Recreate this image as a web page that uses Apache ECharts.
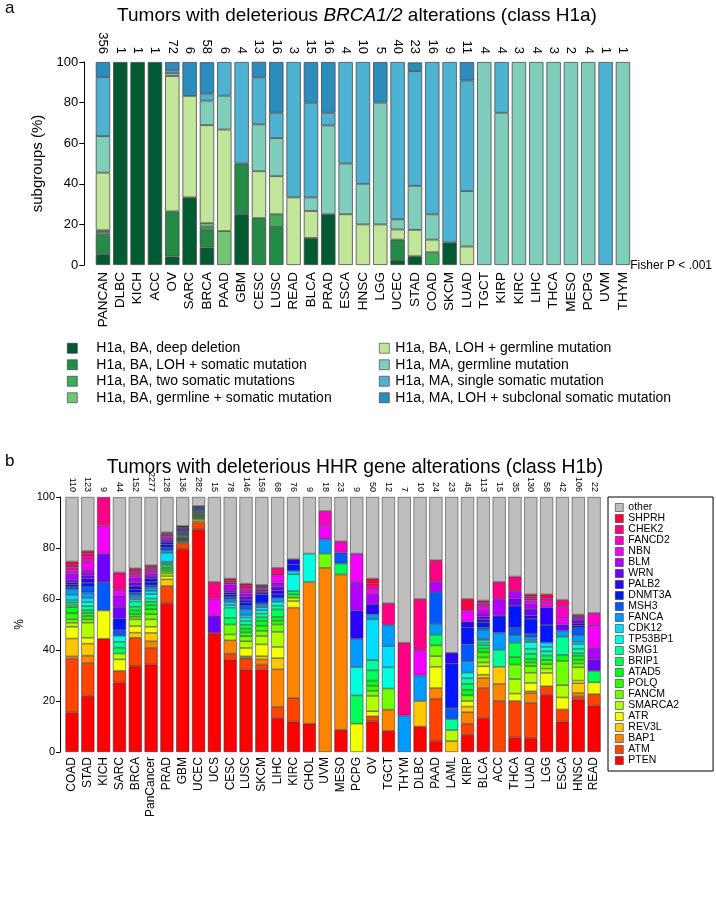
<!DOCTYPE html>
<html>
<head>
<meta charset="utf-8">
<script src="https://cdn.jsdelivr.net/npm/echarts@6/dist/echarts.min.js"></script>
<style>
  html, body { margin: 0; padding: 0; background: #fff; }
  #main { width: 716px; height: 898px; }
</style>
</head>
<body>
<div id="main"></div>
<script>
// ---- panel a: BRCA1/2 (class H1a) ----
const topCats = ["PANCAN","DLBC","KICH","ACC","OV","SARC","BRCA","PAAD","GBM","CESC","LUSC","READ","BLCA","PRAD","ESCA","HNSC","LGG","UCEC","STAD","COAD","SKCM","LUAD","TGCT","KIRP","KIRC","LIHC","THCA","MESO","PCPG","UVM","THYM"];
const topCounts = [356,1,1,1,72,6,58,6,4,13,16,3,15,16,4,10,5,40,23,16,9,11,4,4,3,4,3,2,4,1,1];
const topNames = ["H1a, BA, deep deletion","H1a, BA, LOH + somatic mutation","H1a, BA, two somatic mutations","H1a, BA, germline + somatic mutation","H1a, BA, LOH + germline mutation","H1a, MA, germline mutation","H1a, MA, single somatic mutation","H1a, MA, LOH + subclonal somatic mutation"];
const topColors = ["#005a32","#238b45","#41ab5d","#74c476","#c2e699","#7fcdbb","#4eb3d3","#2b8cbe"];
// percent of tumours, bottom to top
const deepDel  = [5.3,100,100,100,4.2,33.3,8.6,0,25,0,0,0,13.3,25,0,0,0,2.5,4.3,0,11.1,0,0,0,0,0,0,0,0,0,0];
const lohSom   = [9.5,0,0,0,22.2,0,8.6,0,25,23.1,18.75,0,0,0,0,0,0,10,0,0,0,0,0,0,0,0,0,0,0,0,0];
const twoSom   = [1.5,0,0,0,0,0,1.7,0,0,0,6.25,0,0,0,0,0,0,0,0,6.25,0,0,0,0,0,0,0,0,0,0,0];
const germSom  = [0.8,0,0,0,0,0,1.7,16.7,0,0,0,0,0,0,0,0,0,0,0,0,0,0,0,0,0,0,0,0,0,0,0];
const lohGerm  = [28.4,0,0,0,66.7,50,48.3,50,0,23.1,18.75,33.3,13.3,0,25,20,20,5,13,6.25,0,9.1,0,0,0,0,0,0,0,0,0];
const maGerm   = [18,0,0,0,1.4,0,12.1,16.7,0,23.1,18.75,0,6.7,43.75,25,20,60,5,21.7,12.5,0,27.3,100,75,100,100,100,100,100,0,100];
const maSingle = [29,0,0,0,1.4,0,3.4,16.6,50,23.1,12.5,66.7,46.7,6.25,50,60,0,77.5,56.5,75,88.9,54.5,0,25,0,0,0,0,0,100,0];
const maLoh    = [7.5,0,0,0,4.1,16.7,15.5,0,0,7.7,25,0,20,25,0,0,20,0,4.3,0,0,9.1,0,0,0,0,0,0,0,0,0];
const topData = [deepDel, lohSom, twoSom, germSom, lohGerm, maGerm, maSingle, maLoh];

// ---- panel b: HHR genes (class H1b) ----
const botCats = ["COAD","STAD","KICH","SARC","BRCA","PanCancer","PRAD","GBM","UCEC","UCS","CESC","LUSC","SKCM","LIHC","KIRC","CHOL","UVM","MESO","PCPG","OV","TGCT","THYM","DLBC","PAAD","LAML","KIRP","BLCA","ACC","THCA","LUAD","LGG","ESCA","HNSC","READ"];
const botCounts = [110,123,9,44,152,2277,128,136,282,15,78,146,159,68,76,9,18,23,9,50,12,7,10,24,23,45,113,15,35,130,58,42,106,22];
const genes = ["PTEN","ATM","BAP1","REV3L","ATR","SMARCA2","FANCM","POLQ","ATAD5","BRIP1","SMG1","TP53BP1","CDK12","FANCA","MSH3","DNMT3A","PALB2","WRN","BLM","NBN","FANCD2","CHEK2","SHPRH","other"];
const geneColors = ["#FF0000","#FF4300","#FF8500","#FFC800","#F4FF00","#B1FF00","#6FFF00","#2CFF00","#00FF16","#00FF59","#00FF9B","#00FFDE","#00DEFF","#009BFF","#0059FF","#0016FF","#2C00FF","#6F00FF","#B100FF","#F400FF","#FF00C8","#FF0085","#FF0043","#BEBEBE"];
const PTEN    = [15.5,22.0,44.4,27.3,33.6,34.3,58.5,79.5,87.4,46.7,36.2,32.3,32.3,13.3,11.9,11.1,0,8.7,0,12,8.3,0,10,4.2,0,6.7,13.3,0,5.7,5.4,22.4,11.9,20.5,18.2];
const ATM     = [21.0,12.9,0,4.5,11.2,6.5,6.6,2.3,2.6,0,2.4,4.2,2.0,4.4,9.2,0,0,0,0,2,0,0,0,16.7,0,4.4,11.8,20,14.3,13.8,3.4,4.8,1.3,4.5];
const BAP1    = [1.0,2.9,0,0,0,2.6,0,0,0,0,5.2,0.5,2.0,14.7,35.5,55.6,72.2,60.9,0,0,8.3,0,0,4.2,0,4.5,3.9,6.7,0,3.9,0,0,1.3,0];
const REV3L   = [7.0,4.7,0,0,2.0,3.3,2.6,0.4,0.6,0,0,0.5,1.3,4.4,0,0,0,0,0,0,0,0,10,0,4.3,2.2,1.3,6.7,0,0.7,0,0,3.9,0];
const ATR     = [4.6,2.3,11.1,4.5,2.6,2.4,1.3,0.4,0.7,0,0,3.3,4.6,4.4,2.6,0,0,0,11.1,2,0,0,0,8.3,0,2.2,3.3,0,2.9,3.3,5.2,4.7,1.0,4.6];
const SMARCA2 = [1.6,5.9,0,2.3,2.6,2.9,1.0,0.3,0.4,0,2.3,2.6,3.3,5.9,1.3,0,0,0,0,6,0,0,0,4.2,4.3,0,1.5,0,5.7,4.0,1.7,4.8,5.2,0];
const FANCM   = [1.3,1.3,0,0,1.0,2.0,0.8,0.3,0.4,0,3.9,2.0,2.0,2.9,0,0,5.6,0,0,2,8.3,0,0,4.2,0,2.2,2.0,0,5.7,2.6,1.7,9.5,1.5,0];
const POLQ    = [2.4,1.3,0,0,1.0,2.0,0.8,0.3,0.4,0,0,1.5,2.0,1.5,1.3,0,0,0,0,2,0,0,0,0,0,0,2.0,0,0,1.4,1.7,0,1.5,0];
const ATAD5   = [2.4,1.3,0,0,1.5,1.6,0.8,0.3,0.4,0,0,1.5,2.0,1.5,0,0,0,0,0,2,0,0,0,0,0,2.2,1.5,0,2.9,1.4,0,2.4,1.5,0];
const BRIP1   = [1.0,1.0,0,2.3,1.5,1.3,1.0,0.3,0.4,0,2.6,1.5,1.3,2.9,1.3,0,0,4.3,11.1,4,0,0,0,4.2,0,2.3,1.3,0,5.7,2.0,1.7,0,1.0,4.5];
const SMG1    = [0.9,1.6,0,2.3,2.0,1.3,0.6,0.4,0.4,0,4.0,1.5,1.5,1.5,0,0,0,0,0,4,0,0,0,0,4.3,2.2,1.0,6.7,0,2.0,1.7,7.1,1.8,0];
const TP53BP1 = [0.9,1.6,0,2.3,0.9,1.7,0.6,0.4,0.4,0,1.0,1.3,1.3,1.5,6.6,11.1,0,0,11.1,0,8.3,0,0,0,0,2.2,1.0,0,0,2.6,1.7,0,1.8,0];
const CDK12   = [2.0,1.6,0,0,0.7,1.3,3.5,0.3,0.4,0,1.2,1.0,1.2,0,1.3,0,0,0,0,16,8.3,0,0,0,0,0,0.5,0,0,0.6,1.7,0,0.9,0];
const FANCA   = [2.2,2.1,0,0,1.0,1.3,1.0,0.4,0.4,0,1.0,2.3,1.1,1.5,0,0,5.6,0,11.1,2,8.4,14.3,10,4.2,0,4.5,3.5,6.7,2.9,1.3,0,2.4,2.6,0];
const MSH3    = [0.9,2.2,11.1,2.3,0.9,0.9,1.0,0.4,0.4,0,1.0,1.3,0.5,0,0,0,0,4.3,0,0,0,0,0,12.5,4.3,6.6,1.0,0,2.9,1.3,0,0,2.9,0];
const DNMT3A  = [0.9,1.6,0,4.5,1.3,1.3,1.2,0.5,0.4,0,1.0,1.3,3.4,1.5,2.6,0,0,0,0,0,0,0,0,0,17.4,6.7,2.0,6.6,8.6,5.9,6.9,0,0.9,0];
const PALB2   = [0.9,1.7,0,0,1.3,1.3,1.0,0.5,0.4,0,0.8,1.0,0.6,1.5,2.0,0,0,0,11.1,4,0,0,0,0,4.3,2.2,1.0,0,0,1.3,6.9,0,0.9,0];
const WRN     = [0.9,1.3,11.1,4.5,1.3,1.0,0.8,0.5,0.4,6.7,0.5,1.3,0.6,1.5,0,0,0,0,0,0,0,0,0,0,0,0,1.3,0,2.9,2.6,0,2.4,1.3,4.5];
const BLM     = [2.6,2.0,0,4.5,2.0,1.0,0.8,0.5,0,0,2.6,1.3,0.6,1.5,0,0,0,0,11.1,4,0,0,0,4.2,0,0,2.0,6.6,2.9,2.0,0,0,1.1,4.5];
const NBN     = [1.2,3.3,11.1,2.3,1.0,0.9,0.8,0.3,0,6.7,0,1.0,0.6,2.9,0,0,5.6,0,11.2,2,0,0,10,0,0,4.5,2.0,0,0,1.3,1.7,2.4,0,9.1];
const FANCD2  = [1.2,1.6,0,0,0.9,0.9,0.5,0.2,0,0,0.7,1.0,0.4,0,0,0,5.5,4.4,0,0,0,0,0,0,0,0,1.0,0,0,0.8,1.7,4.8,0,4.6];
const CHEK2   = [1.0,1.6,11.2,6.8,1.0,0.7,0.5,0.1,0,6.6,0.8,0.9,0.5,2.9,0,0,0,0,0,2,8.4,28.6,20,8.3,0,0,0.6,6.7,5.7,0.8,0,2.4,0.5,0];
const SHPRH   = [1.3,1.0,0,0,0.7,0.7,0.4,0,0,0,0.8,0.9,0.4,0,0,0,0,0,0,2,0,0,0,0,0,4.4,0.6,0,0,0.8,1.7,0,0.5,0];
const other   = [25.3,21.2,0,29.5,28.0,26.8,13.9,11.4,3.5,33.3,32.0,34.0,34.5,27.8,24.4,22.2,5.5,17.4,22.2,32,41.7,57.1,40,24.8,61.1,40.0,40.6,33.3,31.2,38.2,38.2,40.4,46.1,45.5];
const botData = [PTEN,ATM,BAP1,REV3L,ATR,SMARCA2,FANCM,POLQ,ATAD5,BRIP1,SMG1,TP53BP1,CDK12,FANCA,MSH3,DNMT3A,PALB2,WRN,BLM,NBN,FANCD2,CHEK2,SHPRH,other];

const FONT = "'Liberation Sans', Arial, sans-serif";
const chart = echarts.init(document.getElementById("main"));

const clean = arr => arr.map(v => (v === 0 ? "-" : v));

const series = [];
topData.forEach((arr, i) => {
  series.push({
    name: topNames[i],
    type: "bar",
    stack: "h1a",
    xAxisIndex: 0,
    yAxisIndex: 0,
    barCategoryGap: "17%",
    itemStyle: { color: topColors[i], borderColor: "#4a4a4a", borderWidth: 0.8 },
    data: clean(arr),
  });
});
botData.forEach((arr, i) => {
  series.push({
    name: genes[i],
    type: "bar",
    stack: "h1b",
    xAxisIndex: 2,
    yAxisIndex: 1,
    barCategoryGap: "17%",
    itemStyle: { color: geneColors[i], borderColor: "rgba(40,40,40,0.85)", borderWidth: 0.6 },
    data: clean(arr),
  });
});

const hideLine = { axisLine: { show: false }, axisTick: { show: false }, splitLine: { show: false } };

let option = {
  animation: false,
  textStyle: { fontFamily: FONT, color: "#000" },
  grid: [
    { left: 94.3, top: 62, width: 537.3, height: 203 },
    { left: 64.1, top: 497, width: 537.9, height: 255 },
  ],
  xAxis: [
    { type: "category", gridIndex: 0, data: topCats, position: "bottom", ...hideLine,
      axisLabel: { rotate: 90, fontSize: 13.5, color: "#000", margin: 7, interval: 0 } },
    { type: "category", gridIndex: 0, data: topCounts, position: "top", ...hideLine,
      axisLabel: { rotate: 90, fontSize: 13, color: "#000", margin: 8, interval: 0 } },
    { type: "category", gridIndex: 1, data: botCats, position: "bottom", ...hideLine,
      axisLabel: { rotate: 90, fontSize: 12, color: "#000", margin: 5, interval: 0 } },
    { type: "category", gridIndex: 1, data: botCounts, position: "top", ...hideLine,
      axisLabel: { rotate: 90, fontSize: 9, color: "#000", margin: 5, interval: 0 } },
  ],
  yAxis: [
    { type: "value", gridIndex: 0, min: 0, max: 100, interval: 20, offset: 10,
      name: "subgroups (%)", nameLocation: "middle", nameGap: 36,
      nameTextStyle: { fontSize: 15, color: "#000" },
      axisLine: { show: true, lineStyle: { color: "#000", width: 1 } },
      axisTick: { show: true, length: 5, lineStyle: { color: "#000" } },
      axisLabel: { fontSize: 13, color: "#000", margin: 6 },
      splitLine: { show: false } },
    { type: "value", gridIndex: 1, min: 0, max: 100, interval: 20, offset: 4,
      name: "%", nameLocation: "middle", nameGap: 32,
      nameTextStyle: { fontSize: 12, color: "#000" },
      axisLine: { show: true, lineStyle: { color: "#000", width: 1 } },
      axisTick: { show: true, length: 4, lineStyle: { color: "#000" } },
      axisLabel: { fontSize: 11, color: "#000", margin: 5 },
      splitLine: { show: false } },
  ],
  legend: [
    { data: topNames.slice(0, 4), orient: "vertical", left: 67, top: 340, padding: 0,
      itemWidth: 10, itemHeight: 10, itemGap: 0, icon: "rect",
      itemStyle: { borderColor: "#333", borderWidth: 0.6 },
      textStyle: { fontSize: 14, color: "#000", lineHeight: 16.5, padding: [0, 0, 0, 14] } },
    { data: topNames.slice(4), orient: "vertical", left: 379, top: 340, padding: 0,
      itemWidth: 10, itemHeight: 10, itemGap: 0, icon: "rect",
      itemStyle: { borderColor: "#333", borderWidth: 0.6 },
      textStyle: { fontSize: 14, color: "#000", lineHeight: 16.5, padding: [0, 0, 0, 1] } },
    { data: genes.slice().reverse(), orient: "vertical", left: 608, top: 497,
      padding: [5, 34, 5, 7], borderColor: "#000", borderWidth: 1,
      itemWidth: 8, itemHeight: 8, itemGap: 0, icon: "rect",
      itemStyle: { borderColor: "#333", borderWidth: 0.6 },
      textStyle: { fontSize: 10.5, color: "#000", lineHeight: 10.4, padding: [0, 0, 0, 0] } },
  ],
  graphic: [
    { type: "text", left: 5, top: 0, style: { text: "a", font: "17px " + FONT, fill: "#000" } },
    { type: "text", x: 357, y: 16, style: {
        text: "{n|Tumors with deleterious }{i|BRCA1/2}{n| alterations (class H1a)}",
        align: "center", verticalAlign: "middle",
        rich: { n: { fontSize: 19, fontFamily: FONT, fill: "#000" },
                i: { fontSize: 19, fontFamily: FONT, fontStyle: "italic", fill: "#000" } } } },
    { type: "text", x: 712, y: 266, style: { text: "Fisher P < .001", font: "12px " + FONT, fill: "#000",
        align: "right", verticalAlign: "middle" } },
    { type: "text", left: 5, top: 453, style: { text: "b", font: "17px " + FONT, fill: "#000" } },
    { type: "text", x: 355, y: 468, style: { text: "Tumors with deleterious HHR gene alterations (class H1b)",
        font: "19.3px " + FONT, fill: "#000", align: "center", verticalAlign: "middle" } },
  ],
  series: series,
};

chart.setOption(option);
</script>
</body>
</html>
